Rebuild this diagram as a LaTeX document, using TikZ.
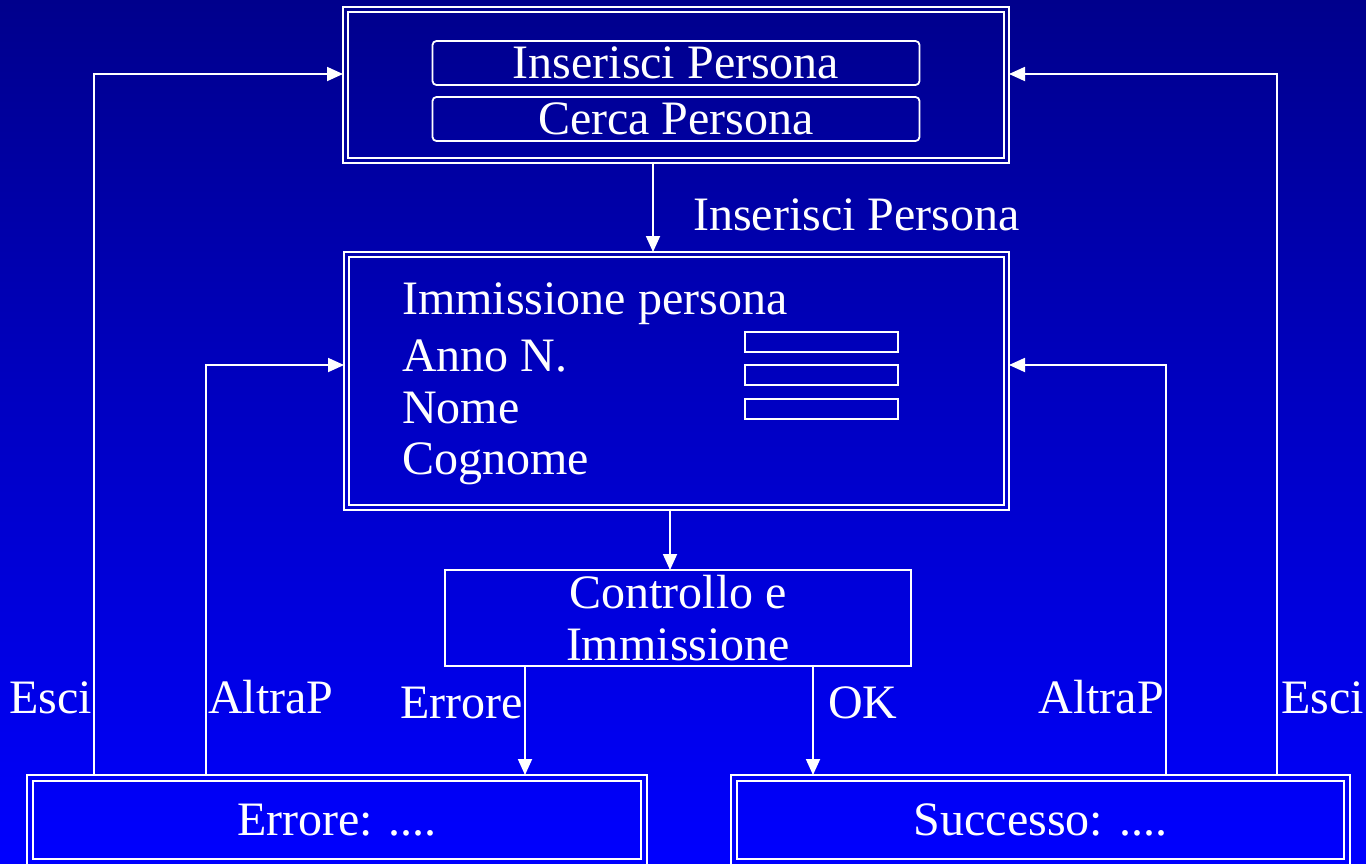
\documentclass[tikz,border=0pt]{standalone}
\usepackage{fontspec}
\setmainfont{Liberation Serif}
\usetikzlibrary{arrows.meta}
\definecolor{bgtop}{RGB}{0,0,140}
\definecolor{bgbot}{RGB}{0,0,255}
\tikzset{
  box/.style={draw=white, line width=1.8pt, outer sep=0pt, inner sep=0pt},
  btn/.style={box, rounded corners=4pt, minimum width=487, minimum height=44},
  field/.style={box, minimum width=153, minimum height=20},
  lbl/.style={text=white, inner sep=0pt, font=\fontsize{48}{52}\selectfont},
  wire/.style={draw=white, line width=1.8pt},
  arr/.style={wire, -{Triangle[length=16pt,width=14pt]}},
}
\begin{document}
\begin{tikzpicture}[x=1pt, y=-1pt]
            \shade[top color=bgtop, bottom color=bgbot] (0,0) rectangle (1366,863);
            \useasboundingbox (0,0) rectangle (1366,863);

            % menu
            \node[box, minimum width=666, minimum height=156] (menu) at (676,85) {};
            \draw[wire] ([shift={(5,5)}]menu.north west) rectangle ([shift={(-5,-5)}]menu.south east);
            \node[btn, lbl] (ins) at (676,63) {Inserisci Persona};
            \node[btn, lbl] (cerca) at (676,119) {Cerca Persona};

            % form
            \node[box, minimum width=665, minimum height=258] (form) at (676.5,381) {};
            \draw[wire] ([shift={(5,5)}]form.north west) rectangle ([shift={(-5,-5)}]form.south east);
            \node[lbl, anchor=base west] (ftitle) at (402,314) {Immissione persona};
            \node[lbl, anchor=base west] (fanno) at (402,371) {Anno N.};
            \node[lbl, anchor=base west] (fnome) at (402,423) {Nome};
            \node[lbl, anchor=base west] (fcogn) at (402,474) {Cognome};
            \node[field] (f1) at (821.5,342) {};
            \node[field] (f2) at (821.5,375) {};
            \node[field] (f3) at (821.5,409) {};

            % check
            \node[box, lbl, align=center, minimum width=466, minimum height=96] (ctrl) at (678,618) {Controllo e\\Immissione};

            % results
            \node[box, lbl, minimum width=620, minimum height=90] (err) at (337,820) {Errore: ....};
            \draw[wire] ([shift={(6,6)}]err.north west) rectangle ([shift={(-6,-6)}]err.south east);
            \node[box, lbl, minimum width=619, minimum height=90] (succ) at (1040.5,820) {Successo: ....};
            \draw[wire] ([shift={(6,6)}]succ.north west) rectangle ([shift={(-6,-6)}]succ.south east);

            % flow
            \draw[arr] (menu.south -| 653,0) -- (form.north -| 653,0);
            \node[lbl, anchor=base west] (lins) at (693,230) {Inserisci Persona};
            \draw[arr] (form.south -| 670,0) -- (ctrl.north -| 670,0);
            \draw[arr] (ctrl.south -| 525,0) -- (err.north -| 525,0);
            \draw[arr] (ctrl.south -| 813,0) -- (succ.north -| 813,0);
            \node[lbl, anchor=base east] (lerr) at (523,718) {Errore};
            \node[lbl, anchor=base west] (lok) at (828,718) {OK};

            % back
            \draw[arr] (err.north -| 94,0) |- (menu.west |- 0,74);
            \draw[arr] (err.north -| 206,0) |- (form.west |- 0,365);
            \draw[arr] (succ.north -| 1166,0) |- (form.east |- 0,365);
            \draw[arr] (succ.north -| 1277,0) |- (menu.east |- 0,74);
            \node[lbl, anchor=base east] (lesci1) at (92,713) {Esci};
            \node[lbl, anchor=base west] (laltra1) at (208,713) {AltraP};
            \node[lbl, anchor=base east] (laltra2) at (1164,713) {AltraP};
            \node[lbl, anchor=base west] (lesci2) at (1281,713) {Esci};
        \end{tikzpicture}
\end{document}
